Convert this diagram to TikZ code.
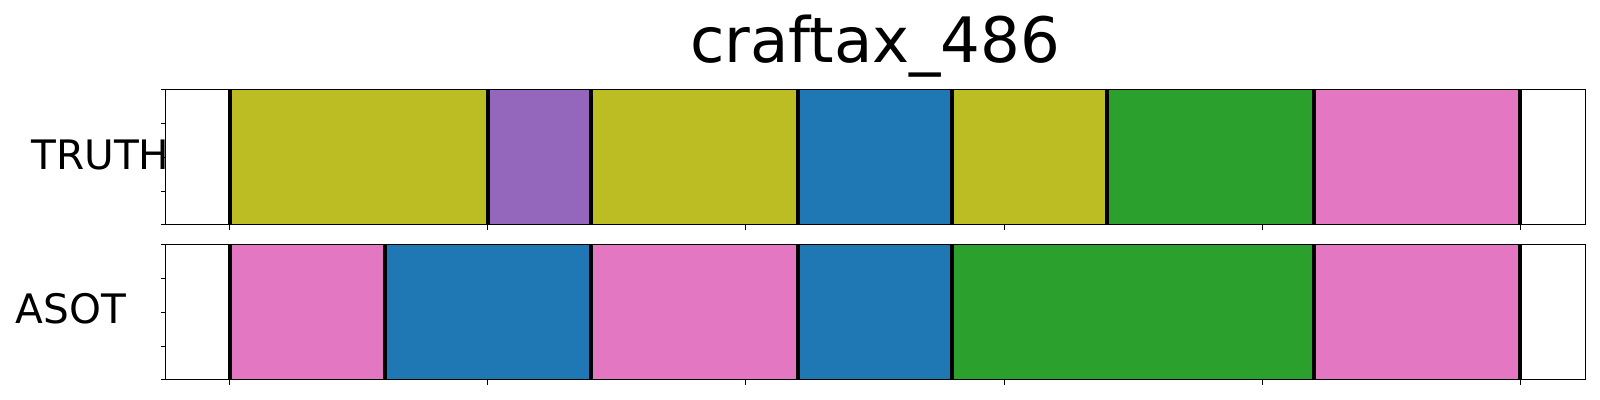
\documentclass[tikz,border=0pt]{standalone}
\usepackage{fontspec}
\setmainfont{DejaVu Sans}
\definecolor{tabolive}{HTML}{BCBD22}
\definecolor{tabpurple}{HTML}{9467BD}
\definecolor{tabblue}{HTML}{1F77B4}
\definecolor{tabgreen}{HTML}{2CA02C}
\definecolor{tabpink}{HTML}{E377C2}
\tikzset{
  seg/.style={fill=#1, draw=none},
  bound/.style={line width=2pt, black},
  frame/.style={line width=0.5pt, black},
  tick/.style={line width=0.5pt, black},
  lbl/.style={font=\fontsize{20.3}{24}\selectfont, inner sep=0pt, anchor=base west},
}
\begin{document}
\begin{tikzpicture}[x=0.5pt, y=-0.5pt]
\useasboundingbox (0,0) rectangle (1600,400);
\fill[white] (0,0) rectangle (1600,400);
% TRUTH segments
\foreach \a/\b/\c in {0/5/tabolive,5/7/tabpurple,7/11/tabolive,11/14/tabblue,14/17/tabolive,17/21/tabgreen,21/25/tabpink}{
  \fill[seg=\c] ({229.7+51.62*\a},90) rectangle ({229.7+51.62*\b},225);
}
% ASOT segments
\foreach \a/\b/\c in {0/3/tabpink,3/7/tabblue,7/11/tabpink,11/14/tabblue,14/21/tabgreen,21/25/tabpink}{
  \fill[seg=\c] ({229.7+51.62*\a},245) rectangle ({229.7+51.62*\b},380);
}
% boundaries
\foreach \a in {0,5,7,11,14,17,21,25}{
  \draw[bound] ({229.7+51.62*\a},90) -- ({229.7+51.62*\a},225);
}
\foreach \a in {0,3,7,11,14,21,25}{
  \draw[bound] ({229.7+51.62*\a},245) -- ({229.7+51.62*\a},380);
}
% frames
\draw[frame] (165.6,90) rectangle (1585.6,225);
\draw[frame] (165.6,245) rectangle (1585.6,380);
% x ticks
\foreach \k in {0,...,5}{
  \draw[tick] ({229.7+258.1*\k},225) -- ({229.7+258.1*\k},229.7);
  \draw[tick] ({229.7+258.1*\k},380) -- ({229.7+258.1*\k},384.7);
}
% y ticks
\foreach \k in {0,...,4}{
  \draw[tick] (165.6,{90+33.75*\k}) -- (160.9,{90+33.75*\k});
  \draw[tick] (165.6,{245+33.75*\k}) -- (160.9,{245+33.75*\k});
}
% texts
\node[font=\fontsize{31.3}{36}\selectfont, inner sep=0pt, anchor=base] (title) at (875.3,62.3) {craftax\_486};
\node[lbl] (truth) at (31,169.3) {TRUTH};
\node[lbl] (asot) at (15.5,323.3) {ASOT};
\end{tikzpicture}
\end{document}
